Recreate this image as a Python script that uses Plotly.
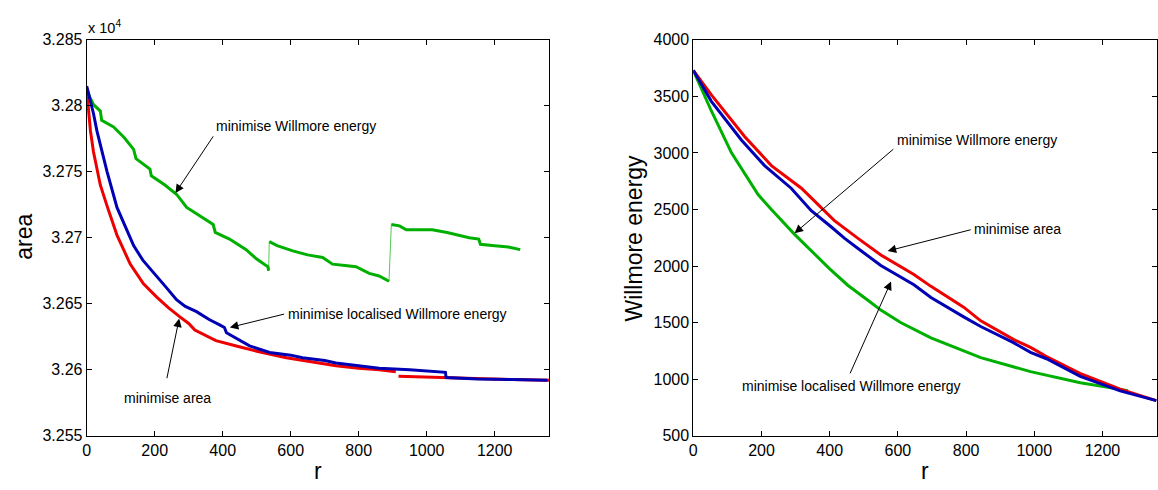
import plotly.graph_objects as go

# ---------------- left panel: area vs r ----------------
# minimise area (red), two pieces
area_red_r1 = [0, 5, 11, 20, 30, 40, 60, 89, 128, 167, 206, 240, 274, 300, 318, 333, 380, 440, 500, 587, 660, 733,
               800, 860, 909]
area_red_v1 = [32812, 32795, 32781, 32765, 32752, 32740, 32724, 32702, 32680, 32665, 32655, 32647, 32640, 32635,
               32630, 32628, 32622, 32618, 32614, 32609, 32606, 32603, 32601, 32600, 32598.5]
area_red_r2 = [917, 980, 1056, 1150, 1250, 1360]
area_red_v2 = [32595, 32594.5, 32593.7, 32593, 32592.5, 32592]

# minimise localised Willmore energy (blue)
area_blue_r = [0, 20, 30, 60, 89, 115, 138, 165, 196, 235, 264, 290, 323, 360, 391, 405, 411, 440, 479, 538, 600,
               635, 700, 733, 800, 860, 950, 1055, 1057, 1150, 1250, 1355]
area_blue_v = [32815, 32794, 32781, 32750, 32723, 32708, 32694, 32683, 32674, 32662, 32653, 32648, 32644, 32638,
               32634, 32632, 32628, 32624, 32618, 32613, 32611, 32609, 32607, 32605, 32603, 32601, 32600, 32598,
               32594, 32593, 32592.5, 32592]

# minimise Willmore energy (green), three pieces separated by jumps
area_green_r1 = [0, 10, 20, 40, 44, 60, 79, 110, 138, 145, 160, 186, 190, 230, 264, 294, 330, 372, 378, 420, 469,
                 499, 533, 535]
area_green_v1 = [32813, 32806, 32801, 32796, 32789, 32787, 32784, 32776, 32767, 32760, 32757, 32752, 32747, 32740,
                 32733, 32723, 32717, 32710, 32704, 32699, 32691, 32684, 32678, 32675]
area_green_r2 = [537, 560, 606, 650, 694, 723, 760, 792, 831, 860, 889]
area_green_v2 = [32697, 32694, 32690, 32687, 32685, 32680, 32679, 32678, 32673, 32671, 32667]
area_green_r3 = [896, 920, 940, 980, 1016, 1060, 1094, 1125, 1153, 1158, 1200, 1240, 1275]
area_green_v3 = [32710, 32709, 32706, 32706, 32706, 32704, 32702, 32700, 32699, 32695, 32694, 32693, 32691]

area_tickvals = [32550, 32600, 32650, 32700, 32750, 32800, 32850]
area_ticktext = ["3.255", "3.26", "3.265", "3.27", "3.275", "3.28", "3.285"]

# ---------------- right panel: Willmore energy vs r ----------------
wm_green_r = [0, 53, 112, 190, 229, 297, 400, 453, 511, 550, 608, 697, 843, 989, 1135, 1252, 1275]
wm_green_v = [3730, 3371, 3001, 2632, 2500, 2280, 1975, 1830, 1700, 1610, 1500, 1365, 1190, 1066, 967, 910, 898]

wm_blue_r = [0, 53, 141, 209, 287, 346, 404, 443, 486, 550, 647, 697, 793, 843, 939, 989, 1036, 1135, 1252, 1358]
wm_blue_v = [3730, 3456, 3115, 2888, 2688, 2489, 2347, 2247, 2148, 2005, 1834, 1721, 1550, 1465, 1322, 1237, 1180,
             1024, 896, 810]

wm_red_r = [0, 53, 151, 229, 317, 385, 413, 482, 550, 647, 697, 793, 843, 939, 989, 1036, 1134, 1252, 1358]
wm_red_v = [3730, 3513, 3144, 2888, 2688, 2489, 2404, 2247, 2098, 1925, 1820, 1636, 1515, 1351, 1280, 1200, 1050,
            910, 810]

RED = "#ee0000"
BLUE = "#0000b4"
GREEN = "#00b000"
FONT = "Liberation Sans, Arial, sans-serif"
W, H = 1158, 490


def joined(*pieces):
    """Concatenate (x, y) pieces with None gaps between them."""
    xs, ys = [], []
    for i, (px, py) in enumerate(pieces):
        if i:
            xs.append(None)
            ys.append(None)
        xs += list(px)
        ys += list(py)
    return xs, ys


fig = go.Figure()

# thin connector under the green curve shows the jumps
gx_all = area_green_r1 + area_green_r2 + area_green_r3
gy_all = area_green_v1 + area_green_v2 + area_green_v3
fig.add_trace(go.Scatter(x=gx_all, y=gy_all, mode="lines", line=dict(color="#55c855", width=1),
                         xaxis="x", yaxis="y", hoverinfo="skip"))

gx, gy = joined((area_green_r1, area_green_v1), (area_green_r2, area_green_v2), (area_green_r3, area_green_v3))
fig.add_trace(go.Scatter(x=gx, y=gy, mode="lines", line=dict(color=GREEN, width=3), xaxis="x", yaxis="y"))

rx, ry = joined((area_red_r1, area_red_v1), (area_red_r2, area_red_v2))
fig.add_trace(go.Scatter(x=rx, y=ry, mode="lines", line=dict(color=RED, width=3), xaxis="x", yaxis="y"))
fig.add_trace(go.Scatter(x=area_blue_r, y=area_blue_v, mode="lines", line=dict(color=BLUE, width=3),
                         xaxis="x", yaxis="y"))

fig.add_trace(go.Scatter(x=wm_green_r, y=wm_green_v, mode="lines", line=dict(color=GREEN, width=3),
                         xaxis="x2", yaxis="y2"))
fig.add_trace(go.Scatter(x=wm_red_r, y=wm_red_v, mode="lines", line=dict(color=RED, width=3),
                         xaxis="x2", yaxis="y2"))
fig.add_trace(go.Scatter(x=wm_blue_r, y=wm_blue_v, mode="lines", line=dict(color=BLUE, width=3),
                         xaxis="x2", yaxis="y2"))

axis_common = dict(
    showline=True, linecolor="black", linewidth=1, mirror="ticks",
    ticks="inside", ticklen=5, tickcolor="black", tickwidth=1,
    showgrid=False, zeroline=False,
    tickfont=dict(family=FONT, size=16, color="black"),
)

y_dom = [47 / H, 457 / H]
fig.update_layout(
    width=W, height=H,
    margin=dict(l=0, r=0, t=0, b=0),
    paper_bgcolor="white", plot_bgcolor="white",
    showlegend=False,
    xaxis=dict(domain=[83 / W, 547 / W], range=[0, 1360], tickvals=[0, 200, 400, 600, 800, 1000, 1200],
               anchor="y", **axis_common),
    yaxis=dict(domain=y_dom, range=[32550, 32850], tickvals=area_tickvals, ticktext=area_ticktext,
               anchor="x", **axis_common),
    xaxis2=dict(domain=[691.7 / W, 1157 / W], range=[0, 1360], tickvals=[0, 200, 400, 600, 800, 1000, 1200],
                anchor="y2", **axis_common),
    yaxis2=dict(domain=y_dom, range=[500, 4000], tickvals=[500, 1000, 1500, 2000, 2500, 3000, 3500, 4000],
                anchor="x2", **axis_common),
)

ann_font = dict(family=FONT, size=14, color="black")
title_font = dict(family=FONT, size=23, color="black")


def label(text, x, y, xref, yref, anchor="left"):
    fig.add_annotation(text=text, x=x, y=y, xref=xref, yref=yref, showarrow=False,
                       xanchor=anchor, yanchor="middle", font=ann_font)


def arrow(xh, yh, xt, yt, xref, yref):
    fig.add_annotation(text="", x=xh, y=yh, ax=xt, ay=yt, xref=xref, yref=yref, axref=xref, ayref=yref,
                       showarrow=True, arrowhead=2, arrowsize=1.7, arrowwidth=1, arrowcolor="black",
                       standoff=0, startstandoff=0)


# left panel annotations
label("minimise Willmore energy", 375, 32785, "x", "y")
arrow(261, 32734, 375, 32778, "x", "y")
label("minimise localised Willmore energy", 585, 32642.4, "x", "y")
arrow(421, 32632, 585, 32642.4, "x", "y")
label("minimise area", 237, 32578.5, "x", "y", anchor="center")
arrow(272, 32638.8, 235, 32592.4, "x", "y")

# right panel annotations
label("minimise Willmore energy", 591, 3115, "x2", "y2")
arrow(297, 2290, 591, 3044, "x2", "y2")
label("minimise area", 818, 2324, "x2", "y2")
arrow(570, 2133, 818, 2324, "x2", "y2")
label("minimise localised Willmore energy", 463, 938, "x2", "y2", anchor="center")
arrow(580, 1863, 458, 1038, "x2", "y2")


# axis titles and exponent
def paper_text(text, px, py, font, angle=0, anchor="center"):
    fig.add_annotation(text=text, x=px / W, y=1 - py / H, xref="paper", yref="paper", showarrow=False,
                       xanchor=anchor, yanchor="middle", textangle=angle, font=font)


paper_text("area", 20, 237, title_font, angle=-90)
paper_text("r", 315, 480, title_font)
paper_text("Willmore energy", 632, 238, title_font, angle=-90)
paper_text("r", 924.5, 480, title_font)
paper_text("x 10<sup>4</sup>", 82, 20, dict(family=FONT, size=14.5, color="black"), anchor="left")

fig.write_html("out.html")
